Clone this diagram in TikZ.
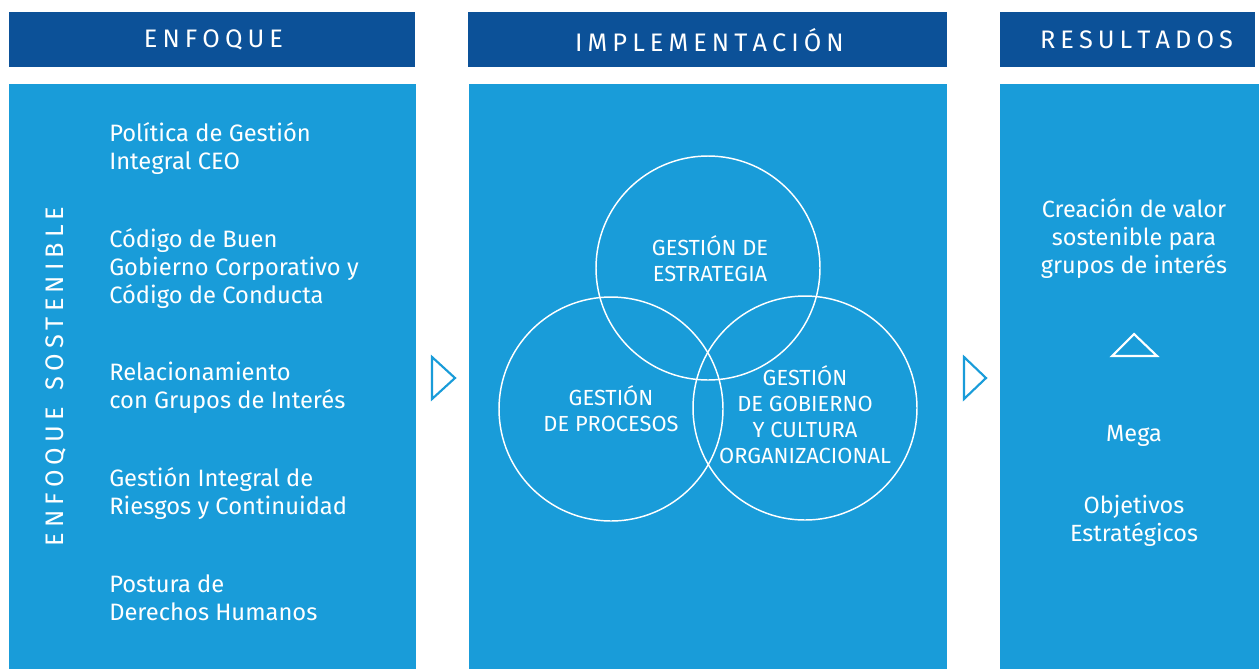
\documentclass[tikz,border=0pt]{standalone}
\usepackage{fontspec}
\setmainfont{Fira Sans}
\definecolor{darkblue}{HTML}{0C5198}
\definecolor{lightblue}{HTML}{199CD9}
\def\spreadletters#1{\ifx#1\relax\else#1\kern3.8pt\relax\expandafter\spreadletters\fi}
\begin{document}
\begin{tikzpicture}[x=0.75pt,y=-0.75pt,
  header/.style={fill=darkblue,draw=none},
  panel/.style={fill=lightblue,draw=none},
  hdrtext/.style={text=white,font=\fontsize{19}{22}\selectfont,anchor=center,inner sep=0pt},
  bodytext/.style={text=white,font=\fontsize{17.8}{21}\selectfont,align=left,anchor=west,inner sep=0pt},
  ctext/.style={text=white,font=\fontsize{17.6}{21}\selectfont,align=center,anchor=center,inner sep=0pt},
  circtext/.style={text=white,font=\fontsize{16.4}{19.5}\selectfont,align=center,anchor=center,inner sep=0pt},
  venn/.style={draw=white,line width=1.1pt},
  chevron/.style={draw=lightblue,line width=1.6pt,line join=miter},
  tri/.style={draw=white,line width=1.6pt}
]
\useasboundingbox (0,0) rectangle (1259,669);
\fill[white] (0,0) rectangle (1259,669);
% headers
\path[header] (9,12) rectangle (415,67);
\path[header] (468,12) rectangle (947,67);
\path[header] (1000,12) rectangle (1255,67);
\node[hdrtext] (h1) at (216,40) {\spreadletters ENFOQUE\relax};
\node[hdrtext] (h2) at (712,40) {\spreadletters IMPLEMENTACIÓN\relax};
\node[hdrtext] (h3) at (1139,40) {\spreadletters RESULTADOS\relax};
% panels
\path[panel] (9,84) rectangle (416,669);
\path[panel] (469,84) rectangle (947,669);
\path[panel] (1000,84) rectangle (1259,669);
% vertical text
\node[hdrtext,rotate=90] (vt) at (56,374) {\spreadletters ENFOQUE~SOSTENIBLE\relax};
% left texts
\node[bodytext] (l1) at (109,149) {Política de Gestión\\Integral CEO};
\node[bodytext] (l2) at (109,269) {Código de Buen\\Gobierno Corporativo y\\Código de Conducta};
\node[bodytext] (l3) at (109,388) {Relacionamiento\\con Grupos de Interés};
\node[bodytext] (l4) at (109,494) {Gestión Integral de\\Riesgos y Continuidad};
\node[bodytext] (l5) at (109,598) {Postura de\\Derechos Humanos};
% chevrons
\draw[chevron] (432,357) -- (455,378) -- (432,399) -- cycle;
\draw[chevron] (964,357) -- (986,378) -- (964,399) -- cycle;
% venn
\draw[venn] (708,268) circle[radius=112];
\draw[venn] (611,409) circle[radius=112];
\draw[venn] (805,408) circle[radius=112];
\node[circtext] (c1) at (710,259) {GESTIÓN DE\\ESTRATEGIA};
\node[circtext] (c2) at (611,409) {GESTIÓN\\DE PROCESOS};
\node[circtext] (c3) at (805,415) {GESTIÓN\\DE GOBIERNO\\Y CULTURA\\ORGANIZACIONAL};
% right
\node[ctext] (r1) at (1134,239) {Creación de valor\\sostenible para\\grupos de interés};
\draw[tri] (1112,356) -- (1134,334) -- (1157,356) -- cycle;
\node[ctext] (r2) at (1134,436) {Mega};
\node[ctext] (r3) at (1134,521) {Objetivos\\Estratégicos};
\end{tikzpicture}
\end{document}
